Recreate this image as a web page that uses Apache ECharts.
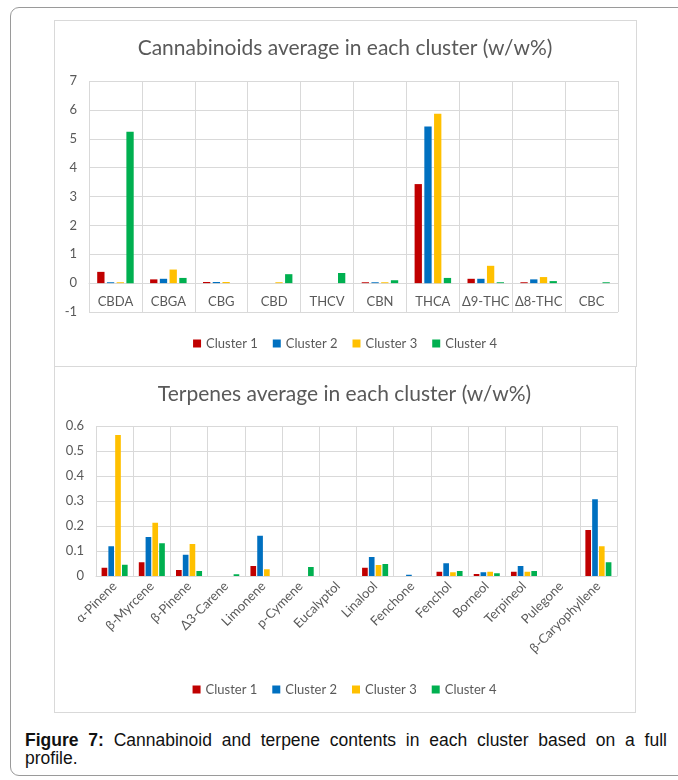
<!DOCTYPE html>
<html>
<head>
<meta charset="utf-8">
<script src="https://cdn.jsdelivr.net/npm/echarts@6/dist/echarts.min.js"></script>
<style>
  html, body { margin: 0; padding: 0; background: #fff; }
  body { width: 678px; height: 780px; position: relative; overflow: hidden; }
  .frame { position: absolute; left: 10px; top: 7px; width: 700px; height: 769px;
           border: 1px solid #9a9a9a; border-radius: 9px; box-sizing: border-box; }
  .box { position: absolute; border: 1px solid #d9d9d9; box-sizing: border-box; }
  .chart { position: absolute; }
  .caption { position: absolute; left: 25px; top: 731px; width: 642px;
             font-family: "Liberation Sans", Arial, sans-serif; font-size: 17.5px;
             line-height: 18px; color: #111; }
  .caption .l1 { text-align: justify; text-align-last: justify; white-space: nowrap; }
</style>
</head>
<body>
<div class="frame"></div>
<div class="box" style="left:54px;top:20px;width:583px;height:347px;"></div>
<div class="box" style="left:54px;top:366px;width:582px;height:347px;"></div>
<div id="cannabinoids" class="chart" style="left:54px;top:20px;width:582px;height:346px;"></div>
<div id="terpenes" class="chart" style="left:54px;top:367px;width:581px;height:345px;"></div>
<div class="caption">
  <div class="l1"><b>Figure 7:</b> Cannabinoid and terpene contents in each cluster based on a full</div>
  <div>profile.</div>
</div>
<script>
// Cluster names and colours
const clusterNames = ['Cluster 1', 'Cluster 2', 'Cluster 3', 'Cluster 4'];
const clusterColors = ['#C00000', '#0070C0', '#FFC000', '#00B050'];

// Cannabinoids (w/w%)
const cannabinoids = ['CBDA', 'CBGA', 'CBG', 'CBD', 'THCV', 'CBN', 'THCA', 'Δ9-THC', 'Δ8-THC', 'CBC'];
const cannCluster1 = [0.39, 0.13, 0.04, 0, 0, 0.03, 3.43, 0.15, 0.03, 0];
const cannCluster2 = [0.03, 0.15, 0.04, 0, 0, 0.03, 5.42, 0.15, 0.13, 0];
const cannCluster3 = [0.03, 0.47, 0.04, 0.03, 0, 0.03, 5.87, 0.60, 0.21, 0];
const cannCluster4 = [5.24, 0.18, 0, 0.31, 0.35, 0.10, 0.18, 0.03, 0.07, 0.03];

// Terpenes (w/w%)
const terpenes = ['α-Pinene', 'β-Myrcene', 'β-Pinene', 'Δ3-Carene', 'Limonene', 'p-Cymene', 'Eucalyptol',
                  'Linalool', 'Fenchone', 'Fenchol', 'Borneol', 'Terpineol', 'Pulegone', 'β-Caryophyllene'];
const terpCluster1 = [0.033, 0.055, 0.024, 0, 0.040, 0, 0, 0.033, 0, 0.017, 0.008, 0.017, 0, 0.184];
const terpCluster2 = [0.119, 0.156, 0.085, 0, 0.161, 0, 0, 0.076, 0.005, 0.051, 0.015, 0.040, 0, 0.307];
const terpCluster3 = [0.564, 0.213, 0.128, 0, 0.027, 0, 0, 0.044, 0, 0.015, 0.017, 0.017, 0, 0.119];
const terpCluster4 = [0.045, 0.131, 0.020, 0.007, 0, 0.036, 0, 0.048, 0, 0.020, 0.011, 0.020, 0, 0.055];

const FONT = 'Lato, "Open Sans", sans-serif';
const TEXT = '#595959';
const GRID = '#d9d9d9';

function buildOption(cfg, el) {
  // The category axis sits on the value 0; shift it up from the grid bottom
  // by the share of the value range that lies below zero.
  const plotHeight = el.clientHeight - cfg.grid.top - cfg.grid.bottom;
  const belowZero = cfg.min < 0 ? (0 - cfg.min) / (cfg.max - cfg.min) : 0;
  return {
    animation: false,
    textStyle: { fontFamily: FONT },
    title: {
      text: cfg.title, left: 'center', top: cfg.titleTop,
      textStyle: { fontFamily: FONT, fontSize: 21, fontWeight: 'normal', color: TEXT }
    },
    legend: {
      data: clusterNames, left: 'center', top: cfg.legendTop,
      icon: 'rect', itemWidth: 8, itemHeight: 8, itemGap: 15,
      textStyle: { fontFamily: FONT, fontSize: 13, color: TEXT }
    },
    grid: Object.assign({ containLabel: false, outerBoundsMode: 'none' }, cfg.grid),
    xAxis: {
      type: 'category', data: cfg.categories,
      position: 'bottom', offset: -plotHeight * belowZero,
      axisLine: { onZero: false, lineStyle: { color: GRID, width: 1 } },
      axisTick: { show: false },
      splitLine: { show: true, interval: 0, lineStyle: { color: GRID, width: 1 } },
      axisLabel: Object.assign({ interval: 0, color: TEXT, fontFamily: FONT, fontSize: 13 }, cfg.xLabel)
    },
    yAxis: {
      type: 'value', min: cfg.min, max: cfg.max, interval: cfg.interval,
      axisLine: { show: false }, axisTick: { show: false },
      splitLine: { lineStyle: { color: GRID, width: 1 } },
      axisLabel: { color: TEXT, fontFamily: FONT, fontSize: 13, margin: 12, formatter: cfg.yFormat }
    },
    series: cfg.values.map((vals, i) => ({
      name: clusterNames[i], type: 'bar', data: vals,
      itemStyle: { color: clusterColors[i] },
      barGap: cfg.barGap, barCategoryGap: cfg.barCategoryGap
    }))
  };
}

const cannEl = document.getElementById('cannabinoids');
const cannChart = echarts.init(cannEl, null, { renderer: 'canvas' });
cannChart.setOption(buildOption({
  title: 'Cannabinoids average in each cluster (w/w%)',
  titleTop: 13, legendTop: 312,
  grid: { left: 35, right: 18, top: 61, bottom: 54 },
  categories: cannabinoids,
  values: [cannCluster1, cannCluster2, cannCluster3, cannCluster4],
  min: -1, max: 7, interval: 1,
  yFormat: v => String(v),
  xLabel: { margin: 12 },
  barGap: '33%', barCategoryGap: '31%'
}, cannEl));

const terpEl = document.getElementById('terpenes');
const terpChart = echarts.init(terpEl, null, { renderer: 'canvas' });
terpChart.setOption(buildOption({
  title: 'Terpenes average in each cluster (w/w%)',
  titleTop: 12, legendTop: 311,
  grid: { left: 42, right: 18, top: 59, bottom: 136 },
  categories: terpenes,
  values: [terpCluster1, terpCluster2, terpCluster3, terpCluster4],
  min: 0, max: 0.6, interval: 0.1,
  yFormat: v => String(Math.round(v * 10) / 10),
  xLabel: { rotate: 45, margin: 8 },
  barGap: '20%', barCategoryGap: '30%'
}, terpEl));
</script>
</body>
</html>
